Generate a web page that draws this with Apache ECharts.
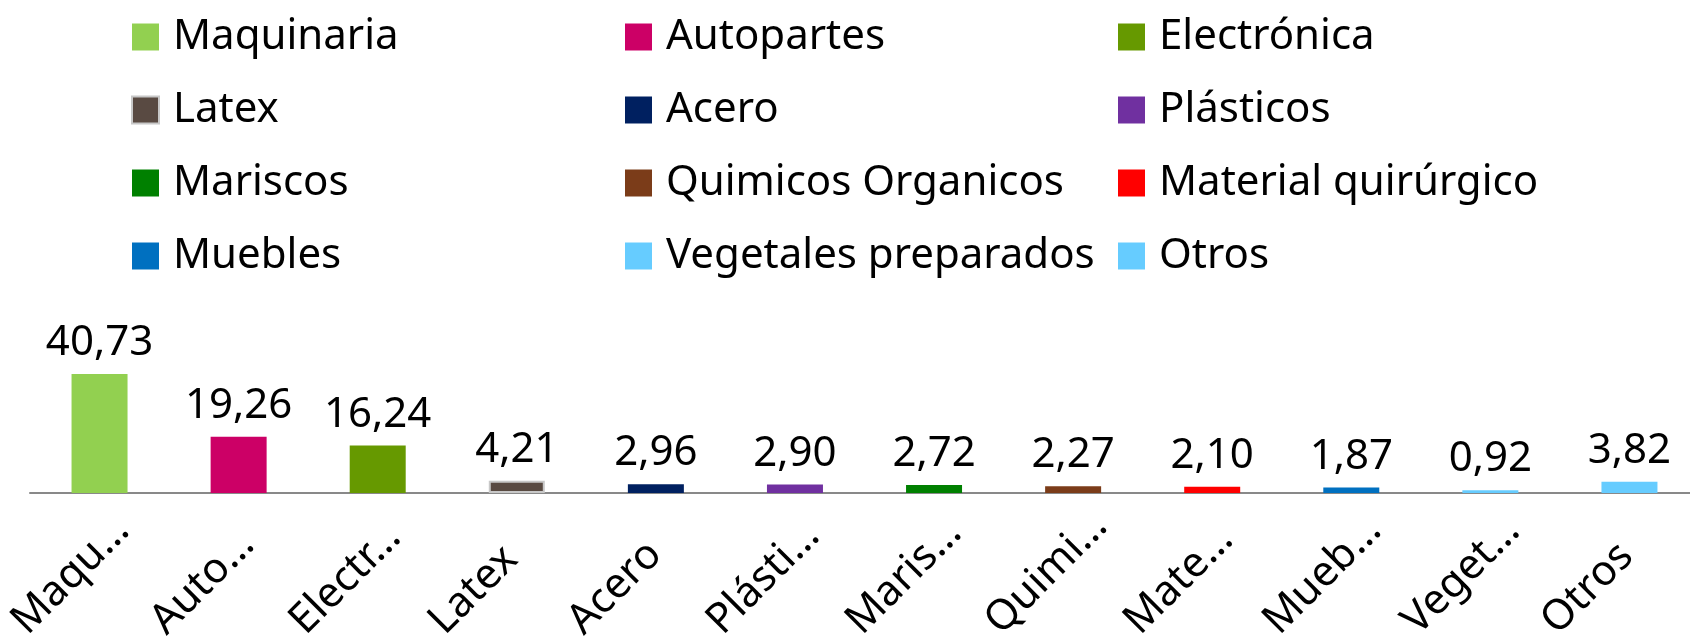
<!DOCTYPE html>
<html>
<head>
<meta charset="utf-8">
<script src="https://cdn.jsdelivr.net/npm/echarts@6/dist/echarts.min.js"></script>
<style>
  html, body { margin: 0; padding: 0; background: #fff; }
  #chart { width: 1690px; height: 637px; }
</style>
</head>
<body>
<div id="chart"></div>
<script>
var categories = ['Maquinaria', 'Autopartes', 'Electrónica', 'Latex', 'Acero', 'Plásticos',
  'Mariscos', 'Quimicos Organicos', 'Material quirúrgico', 'Muebles', 'Vegetales preparados', 'Otros'];
var values = [40.73, 19.26, 16.24, 4.21, 2.96, 2.90, 2.72, 2.27, 2.10, 1.87, 0.92, 3.82];
var tickLabels = ['Maqu…', 'Auto…', 'Electr…', 'Latex', 'Acero', 'Plásti…',
  'Maris…', 'Quimi…', 'Mate…', 'Mueb…', 'Veget…', 'Otros'];
var colors = ['#92D050', '#CC0066', '#669900', '#594A42', '#002060', '#7030A0',
  '#008000', '#7B3C19', '#FF0000', '#0070C0', '#66CCFF', '#66CCFF'];

// legend columns (read row by row in the picture)
var legendCol1 = ['Maquinaria', 'Latex', 'Mariscos', 'Muebles'];
var legendCol2 = ['Autopartes', 'Acero', 'Quimicos Organicos', 'Vegetales preparados'];
var legendCol3 = ['Electrónica', 'Plásticos', 'Material quirúrgico', 'Otros'];

var font = '"Noto Sans", sans-serif';

function legendAt(left, names) {
  return {
    orient: 'vertical',
    left: left,
    top: 16,
    padding: 0,
    itemWidth: 27,
    itemHeight: 27,
    itemGap: 31,
    icon: 'rect',
    selectedMode: false,
    data: names,
    textStyle: {
      fontFamily: font,
      fontSize: 42,
      lineHeight: 42,
      color: '#000',
      padding: [0, 0, 0, 9]
    }
  };
}

var series = categories.map(function (name, i) {
  var data = categories.map(function (c, j) { return j === i ? values[i] : '-'; });
  return {
    name: name,
    type: 'bar',
    stack: 'all',
    barWidth: 56,
    data: data,
    itemStyle: {
      color: colors[i],
      borderColor: name === 'Latex' ? '#C8C8C8' : colors[i],
      borderWidth: name === 'Latex' ? 2 : 0
    },
    label: {
      show: true,
      position: 'top',
      distance: 10,
      fontFamily: font,
      fontSize: 42,
      color: '#000',
      formatter: function (p) { return p.value.toFixed(2).replace('.', ','); }
    }
  };
});

var chart = echarts.init(document.getElementById('chart'));
chart.setOption({
  animation: false,
  legend: [legendAt(131, legendCol1), legendAt(625, legendCol2), legendAt(1118, legendCol3)],
  grid: {
    left: 30,
    width: 1669,
    top: 347,
    bottom: 144,
    containLabel: false,
    outerBoundsMode: 'none'
  },
  xAxis: {
    type: 'category',
    data: tickLabels,
    axisLine: { lineStyle: { color: '#898989', width: 2 } },
    axisTick: { show: false },
    axisLabel: {
      interval: 0,
      rotate: 45,
      margin: 54,
      align: 'right',
      verticalAlign: 'middle',
      formatter: function (v) { return '{t|' + v + '}'; },
      rich: {
        t: {
          width: 114,
          align: 'left',
          fontFamily: font,
          fontSize: 42,
          color: '#000'
        }
      }
    }
  },
  yAxis: {
    type: 'value',
    min: 0,
    max: 50,
    show: false,
    splitLine: { show: false }
  },
  series: series
});
</script>
</body>
</html>
